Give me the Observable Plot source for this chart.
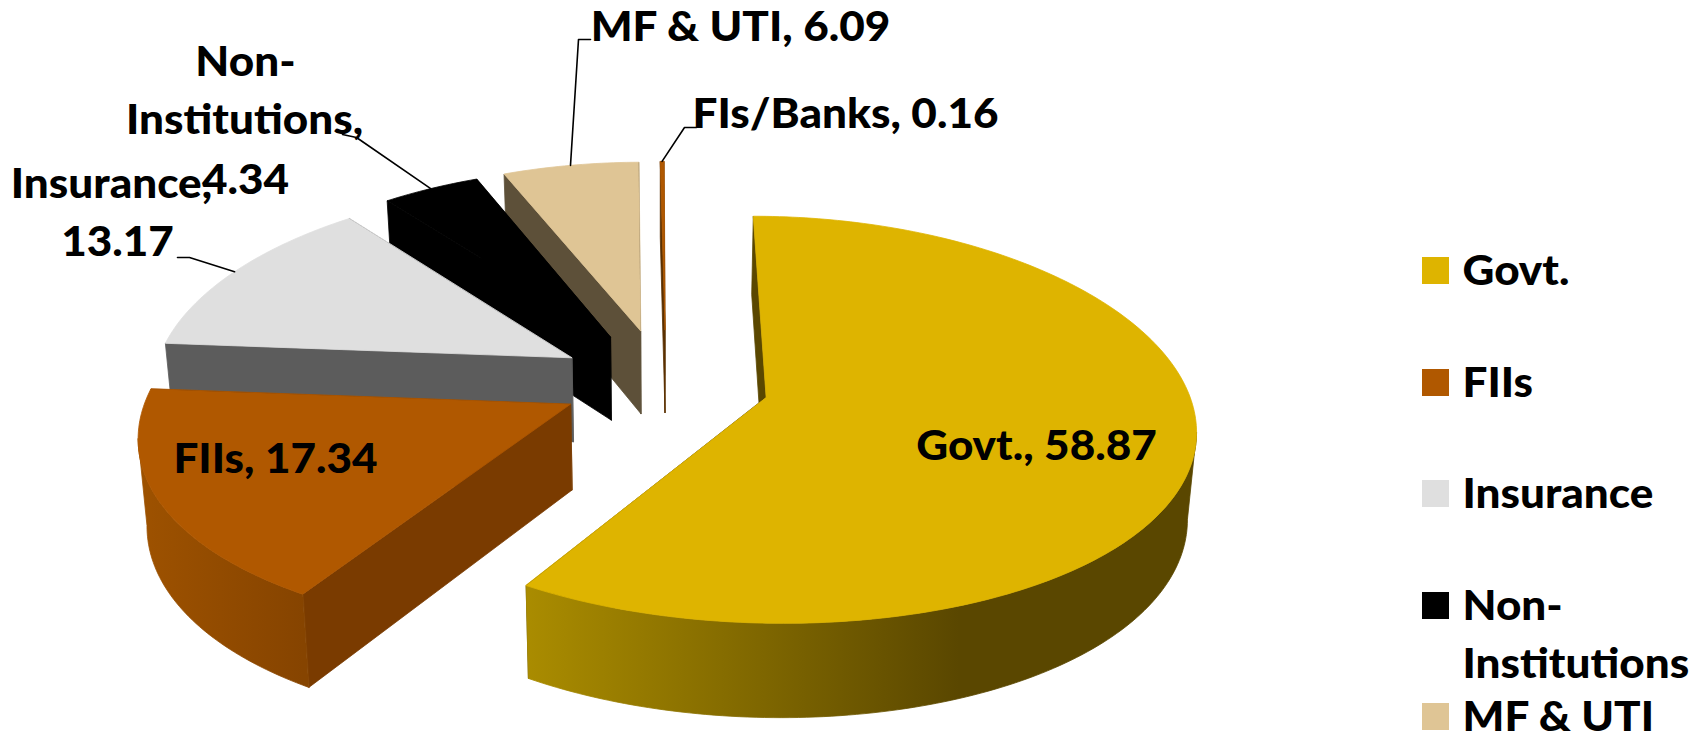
<!DOCTYPE html>
<html>
<head>
<meta charset="utf-8">
<script src="https://cdn.jsdelivr.net/npm/d3@7"></script>
<script src="https://cdn.jsdelivr.net/npm/@observablehq/plot@0.6"></script>
<style>html,body{margin:0;padding:0;background:#fff}svg{display:block}</style>
</head>
<body>
<div id="chart"></div>
<script>
// Data, clockwise from 12 o'clock
const categories = ["Govt.", "FIIs", "Insurance", "Non-Institutions", "MF & UTI", "FIs/Banks"];
const shares = [58.87, 17.34, 13.17, 4.34, 6.09, 0.16];
const legendItems = ["Govt.", "FIIs", "Insurance", "Non-Institutions", "MF & UTI"];

// Styles
const topColors = ["#DEB400", "#B05800", "#DFDFDF", "#000000", "#DFC595", "#B05800"];
const cutColors = ["#5A4700", "#7A3B00", "#5C5C5C", "#000000", "#5D5039", "#5A3000"];
const rimFrom   = ["#AA8C00", "#9E5200", "#5C5C5C", "#000000", "#5D5039", "#5A3000"];
const rimTo     = ["#5A4700", "#864400", "#5C5C5C", "#000000", "#5D5039", "#5A3000"];

// Projection of the tilted pie
const W = 1703, H = 734;
const cx = 660, cy = 383, R = 420, A = 198, perspX = 0.137, perspY = 0.11, perspD = 0.0927;
const expU = [0.256, 0.244, 0.244, 0.244, 0.244, 0.244];
const expV = [0.25, 0.23, 0.28, 0.28, 0.28, 0.28];
const nudgeU = [0.003, 0.006, 0, 0, 0, 0.013];
const depth = 85, tilt = 0.017;
const rad = d => d * Math.PI / 180;
const project = (u, v) => ({
  x: cx + R * u / (1 - perspX * v),
  y: cy + A * v / (1 - perspY * v),
  v
});
const drop = p => ({
  x: p.x + (cx - p.x) * tilt,
  y: p.y + depth / (1 - perspD * p.v),
  v: p.v
});

// Turn shares into angle spans
let cum = 0;
const slices = categories.map((name, i) => {
  const start = cum / 100 * 360;
  cum += shares[i];
  const end = cum / 100 * 360;
  const mid = (start + end) / 2;
  const ou = expU[i] * Math.sin(rad(mid)) + nudgeU[i], ov = -expV[i] * Math.cos(rad(mid));
  const at = a => project(ou + Math.sin(rad(a)), ov - Math.cos(rad(a)));
  return {name, i, start, end, mid, apex: project(ou, ov), at};
});

// Faces, painted back to front: cut faces, then the front of the rim, then the top
const paintOrder = [5, 4, 3, 2, 1, 0];
const faceList = [];
const gradients = [];
for (const idx of paintOrder) {
  const s = slices[idx];
  const steps = Math.max(1, Math.ceil((s.end - s.start) / 1));
  const angles = d3.range(steps + 1).map(k => s.start + (s.end - s.start) * k / steps);
  const rim = angles.map(s.at);
  const cut = (a, b) => ({pts: [a, b, drop(b), drop(a)], fill: cutColors[idx], y: (a.y + b.y) / 2});
  const cuts = [cut(s.apex, rim[0]), cut(s.apex, rim[rim.length - 1])].sort((p, q) => p.y - q.y);
  faceList.push(...cuts);
  // The part of the rim that faces the viewer runs right to left, clockwise
  const frontRim = rim.filter((p, k) =>
    (k < rim.length - 1 && rim[k + 1].x < p.x) || (k > 0 && p.x < rim[k - 1].x));
  if (frontRim.length > 1) {
    const x0 = d3.min(frontRim, p => p.x);
    const x1 = idx === 0 ? x0 + 433 : d3.max(frontRim, p => p.x);
    const id = `rim${idx}`;
    gradients.push({id, x0, x1: Math.max(x1, x0 + 1), from: rimFrom[idx], to: rimTo[idx]});
    faceList.push({pts: [...frontRim, ...frontRim.map(drop).reverse()], fill: `url(#${id})`});
  }
  faceList.push({pts: [s.apex, ...rim], fill: topColors[idx]});
}

// Leader lines end on the rim at each slice's middle angle
const rimMid = i => slices[i].at(slices[i].mid);
const leaderRows = [
  {z: "mf", x: 590, y: 39}, {z: "mf", x: 578, y: 39}, {z: "mf", ...rimMid(4)},
  {z: "fi", x: 696, y: 127}, {z: "fi", x: 684, y: 127}, {z: "fi", ...rimMid(5)},
  {z: "ni", x: 342, y: 134}, {z: "ni", x: 356, y: 137}, {z: "ni", ...rimMid(3)},
  {z: "in", x: 177, y: 257}, {z: "in", x: 189, y: 257}, {z: "in", ...rimMid(2)}
];

// Label layout
const labelRows = [
  {t: `Govt., ${shares[0]}`, x: 1036, y: 459},
  {t: `FIIs, ${shares[1]}`, x: 275, y: 472},
  {t: "Insurance,", x: 111, y: 197},
  {t: `${shares[2]}`, x: 117, y: 255},
  {t: "Non-", x: 245, y: 75},
  {t: "Institutions,", x: 244, y: 133},
  {t: `${shares[3]}`, x: 245, y: 193},
  {t: `MF & UTI, ${shares[4]}`, x: 740, y: 40},
  {t: `FIs/Banks, ${shares[5]}`, x: 845, y: 127}
];
const legendBase = [284, 396, 507, 619, 730];
const swatchRows = legendItems.map((n, i) => ({
  x1: 1422, x2: 1449, y1: legendBase[i] - 27, y2: legendBase[i], fill: topColors[categories.indexOf(n)]
}));
const legendText = [
  {t: "Govt.", y: 284}, {t: "FIIs", y: 396}, {t: "Insurance", y: 507},
  {t: "Non-", y: 619}, {t: "Institutions", y: 677}, {t: "MF & UTI", y: 730}
].map(d => ({...d, x: 1462}));

const gradientDefs = () => {
  const ns = "http://www.w3.org/2000/svg";
  const defs = document.createElementNS(ns, "defs");
  for (const g of gradients) {
    const lg = document.createElementNS(ns, "linearGradient");
    lg.setAttribute("id", g.id);
    lg.setAttribute("gradientUnits", "userSpaceOnUse");
    lg.setAttribute("x1", g.x0); lg.setAttribute("x2", g.x1);
    lg.setAttribute("y1", 0); lg.setAttribute("y2", 0);
    [[0, g.from], [1, g.to]].forEach(([o, c]) => {
      const st = document.createElementNS(ns, "stop");
      st.setAttribute("offset", o); st.setAttribute("stop-color", c);
      lg.appendChild(st);
    });
    defs.appendChild(lg);
  }
  return defs;
};

const textStyle = {text: "t", fontSize: 41, fontWeight: 900, fill: "#000", lineAnchor: "bottom"};
const plot = Plot.plot({
  width: W, height: H, margin: 0,
  x: {domain: [0, W], axis: null},
  y: {domain: [H, 0], axis: null},
  style: {background: "#fff", fontFamily: "Lato"},
  marks: [
    gradientDefs,
    ...faceList.map(f =>
      Plot.line(f.pts, {x: "x", y: "y", fill: f.fill, stroke: f.fill, strokeWidth: 0.8, curve: "linear-closed"})),
    Plot.line(leaderRows, {x: "x", y: "y", z: "z", stroke: "#000", strokeWidth: 1.6, curve: "linear"}),
    Plot.text(labelRows, {...textStyle, x: "x", y: "y", textAnchor: "middle"}),
    Plot.rect(swatchRows, {x1: "x1", x2: "x2", y1: "y1", y2: "y2", fill: d => d.fill}),
    Plot.text(legendText, {...textStyle, x: "x", y: "y", textAnchor: "start"})
  ]
});
const textScale = 1.075;
plot.querySelectorAll("text").forEach(t => {
  t.setAttribute("transform", `${t.getAttribute("transform") || ""} scale(${textScale},1)`);
});
document.getElementById("chart").appendChild(plot);
</script>
</body>
</html>
